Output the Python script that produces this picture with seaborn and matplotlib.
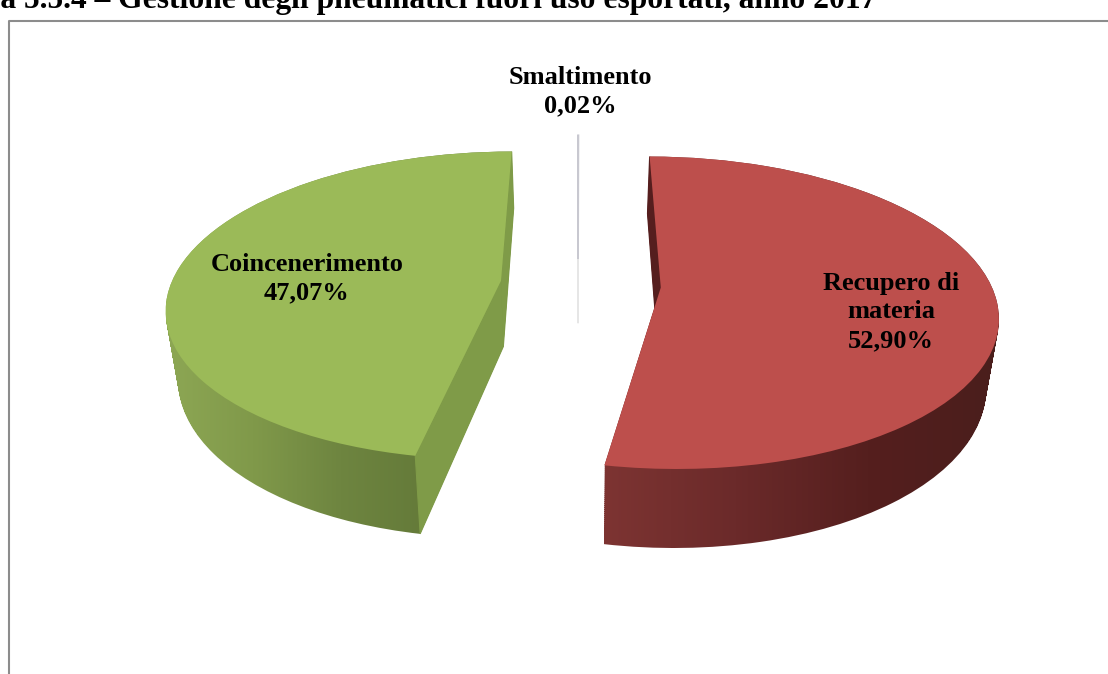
# 3D looking exploded pie: pneumatici fuori uso esportati, anno 2017
import numpy as np
import matplotlib
matplotlib.use("Agg")
import matplotlib.pyplot as plt
from matplotlib.path import Path
from matplotlib.patches import Polygon
from matplotlib.transforms import Transform
import seaborn as sns

# data
categories = ["Smaltimento", "Recupero di\nmateria", "Coincenerimento"]
values = [0.02, 52.90, 47.07]
title = "Figura 5.5.4 \u2013 Gestione degli pneumatici fuori uso esportati, anno 2017"

# colours
top_colors = ["#c8c8d0", "#bd4f4c", "#9bba58"]
green_rim = ["#8da754", "#80994a", "#6e8540", "#647a39", "#647a39"]
red_rim = ["#7d3432", "#6b2a2a", "#551f1e", "#4a1e1c"]

sns.set_theme(style="white")
plt.rcParams["font.family"] = ["Liberation Serif", "DejaVu Serif"]

# camera of the fake 3D view, in pixels
X0, Y0, RX, RY, DEPTH = 578, 284, 330, 151, 66
TILT = 0.161
SHRINK = 0.03


class Projection(Transform):
    # maps the flat pie plane on the screen, z=0 top face, z=1 bottom face
    input_dims = 2
    output_dims = 2

    def __init__(self, z=0.0):
        super().__init__()
        self.z = z

    def transform_non_affine(self, values):
        u, v = np.asarray(values, dtype=float).T
        s = 1 / (1 + TILT * v)
        x = X0 + RX * u * s * (1 - SHRINK * self.z)
        y = Y0 - RY * v * s + DEPTH * s * self.z
        return np.column_stack([x, y])


def edge_wall(wedge, theta, color):
    # flat wall between the centre of the slice and its rim
    rim = (wedge.center[0] + wedge.r * np.cos(np.radians(theta)),
           wedge.center[1] + wedge.r * np.sin(np.radians(theta)))
    pts = [wedge.center, rim]
    quad = np.vstack([Projection(0).transform(np.array(pts)),
                      Projection(1).transform(np.array(pts[::-1]))])
    ax.add_patch(Polygon(quad, closed=True, facecolor=color, edgecolor=color,
                         linewidth=0.8, zorder=3))


fig = plt.figure(figsize=(11.08, 6.74), dpi=100)
ax = fig.add_axes([0, 0, 1, 1])

wedges, _ = ax.pie(values, colors=top_colors, startangle=90, counterclock=False,
                   explode=[0.17, 0.251, 0.235], wedgeprops={"linewidth": 0})

# side of the two big slices, gradient clipped on the swept outline
for wedge, rim in zip(wedges[1:], [red_rim, green_rim]):
    layers = [Projection(z).transform_path(wedge.get_path()) for z in np.linspace(0, 1, 40)]
    swept = Path.make_compound_path(*layers)
    x0, y0, x1, y1 = swept.get_extents().extents
    im = ax.imshow(np.linspace(0, 1, 256)[None, :], extent=(x0, x1, y1, y0), aspect="auto",
                   cmap=sns.blend_palette(rim, as_cmap=True), zorder=2)
    im.set_clip_path(swept, ax.transData)

# walls of the cuts
edge_wall(wedges[0], wedges[0].theta2, "#e6e6e6")
edge_wall(wedges[1], wedges[1].theta2, "#551e1e")
edge_wall(wedges[2], wedges[2].theta1, "#7f9b48")
edge_wall(wedges[2], wedges[2].theta2, "#7f9b48")

# top faces
for wedge in wedges:
    wedge.set_transform(Projection(0) + ax.transData)
    wedge.set_zorder(4)
wedges[0].set_edgecolor(top_colors[0])
wedges[0].set_linewidth(1.3)

ax.set_aspect("auto")
ax.set_xlim(0, 1108)
ax.set_ylim(674, 0)
ax.axis("off")

# chart frame, runs off the picture on the right and at the bottom
ax.plot([9, 9, 1120], [690, 21, 21], color="#8c8c8c", linewidth=1.5, zorder=1)

label_pos = [(580, 92), (891, 312), (307, 279)]
for name, val, (lx, ly) in zip(categories, values, label_pos):
    ax.text(lx, ly, f"{name}\n{val:.2f}%".replace(".", ","), ha="center", va="center",
            fontsize=19, fontweight="bold", color="black", linespacing=1.3, zorder=5)

ax.text(876, 8, title, ha="right", va="baseline", fontsize=22.7, fontweight="bold",
        color="black", zorder=5)

fig.savefig("out.png", dpi=100)
